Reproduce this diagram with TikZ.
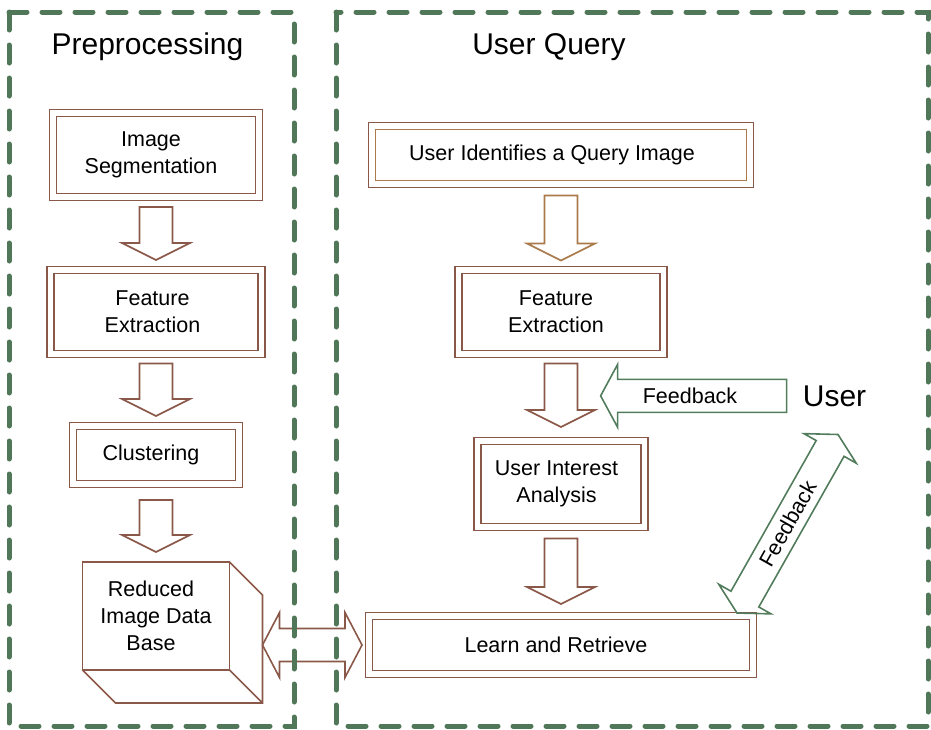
\documentclass[tikz,border=0pt]{standalone}
\usepackage{fontspec}
\setmainfont{Liberation Sans}
\usetikzlibrary{calc}
\definecolor{boxbrown}{RGB}{138,88,72}
\definecolor{boxtan}{RGB}{170,122,74}
\definecolor{dashgreen}{RGB}{80,120,88}
\definecolor{arrowgreen}{RGB}{82,124,92}
\newcommand\bodysize{\fontsize{21.5}{27}\selectfont}
\newcommand\titlesize{\fontsize{30}{36}\selectfont}
\tikzset{
  gap from/.store in=\gapfrom, gap from=0pt,
  gap to/.store in=\gapto, gap to=0pt,
  shaft half/.store in=\shafthalf, shaft half=16.5pt,
  blockhead half/.store in=\headhalf, blockhead half=34pt,
  blockhead length/.store in=\headlen, blockhead length=17pt,
  along/.style={shift={(\p1)}, rotate=\n1},
  blockarrow/.style={line width=1.6pt, line join=miter, to path={
    let \p1=(\tikztostart), \p2=(\tikztotarget),
        \n1={atan2(\y2-\y1,\x2-\x1)}, \n2={veclen(\x2-\x1,\y2-\y1)} in
    ([along]\gapfrom,-\shafthalf) -- ([along]\n2-\gapto-\headlen,-\shafthalf)
    -- ([along]\n2-\gapto-\headlen,-\headhalf) -- ([along]\n2-\gapto,0pt)
    -- ([along]\n2-\gapto-\headlen,\headhalf) -- ([along]\n2-\gapto-\headlen,\shafthalf)
    -- ([along]\gapfrom,\shafthalf) -- cycle}},
  blockdouble/.style={line width=1.6pt, line join=miter, to path={
    let \p1=(\tikztostart), \p2=(\tikztotarget),
        \n1={atan2(\y2-\y1,\x2-\x1)}, \n2={veclen(\x2-\x1,\y2-\y1)} in
    ([along]\gapfrom,0pt) -- ([along]\gapfrom+\headlen,\headhalf)
    -- ([along]\gapfrom+\headlen,\shafthalf) -- ([along]\n2-\gapto-\headlen,\shafthalf)
    -- ([along]\n2-\gapto-\headlen,\headhalf) -- ([along]\n2-\gapto,0pt)
    -- ([along]\n2-\gapto-\headlen,-\headhalf) -- ([along]\n2-\gapto-\headlen,-\shafthalf)
    -- ([along]\gapfrom+\headlen,-\shafthalf) -- ([along]\gapfrom+\headlen,-\headhalf) -- cycle}},
  brownarrow/.style={blockarrow, draw=boxbrown},
  browndouble/.style={blockdouble, draw=boxbrown},
  greenarrow/.style={blockarrow, draw=arrowgreen},
  greendouble/.style={blockdouble, draw=arrowgreen},
  dbox/.style={draw=boxbrown, line width=1.7pt, double=white, double distance=5.3pt,
    outer sep=0pt, inner sep=2pt, align=center, font=\bodysize},
  cube/.style={draw=boxbrown, line width=1.7pt, outer sep=0pt, align=center, font=\bodysize},
  title/.style={font=\titlesize, inner sep=0pt},
  tag/.style={font=\bodysize, inner sep=0pt},
  container/.style={draw=dashgreen, line width=5pt, dash pattern=on 18pt off 15pt, line cap=round}
}
\begin{document}
\begin{tikzpicture}[x=1pt, y=-1pt]
  \useasboundingbox (0,0) rectangle (931,729);
  \node[title, anchor=base] (prep) at (147.5,54) {Preprocessing};
  \node[title, anchor=base] (query) at (549,54) {User Query};
  \node[dbox, minimum width=206pt, minimum height=84pt] (seg) at (156,155) {Image\hspace*{10pt}\\Segmentation\hspace*{10pt}};
  \node[dbox, minimum width=211pt, minimum height=84pt] (featL) at (156,312) {Feature\hspace*{7pt}\\Extraction\hspace*{7pt}};
  \node[dbox, minimum width=166pt, minimum height=58pt] (clus) at (156,455) {Clustering\hspace*{10pt}};
  \node[cube, minimum width=147pt, minimum height=108pt] (db) at (156,616) {Reduced\hspace*{10pt}\\Image Data\hspace*{10pt}\\Base\hspace*{10pt}};
  \draw[boxbrown, line width=1.7pt] (db.north east) -- ++(33,33) -- ++(0,108) coordinate (dbback)
    -- ++(-147,0) -- (db.south west) (db.south east) -- (dbback);
  \node[dbox, minimum width=378pt, minimum height=58pt] (uq) at (561,155) {User Identifies a Query Image\hspace*{18pt}};
  \draw[boxtan, line width=1.7pt] ([shift={(3.5,3.5)}]uq.north west) rectangle ([shift={(-3.5,-3.5)}]uq.south east);
  \node[dbox, minimum width=205pt, minimum height=84pt] (featR) at (561,312) {Feature\hspace*{10pt}\\Extraction\hspace*{10pt}};
  \node[dbox, minimum width=167pt, minimum height=86pt] (uia) at (561,484) {User Interest\hspace*{9pt}\\Analysis\hspace*{9pt}};
  \node[dbox, minimum width=384pt, minimum height=58pt] (learn) at (561,645) {Learn and Retrieve\hspace*{10pt}};
  \node[title, anchor=base] (user) at (834.5,406) {User};
  \coordinate (fbtip) at ([xshift=-202pt]user.west);
  \coordinate (fbbot) at ([shift={(-16,-3)}]learn.north east);
  \coordinate (fbtop) at ([shift={(3.5,28)}]user.south);

  \draw[brownarrow, gap from=10pt, gap to=10pt] (seg.south) to (featL.north);
  \draw[brownarrow, gap from=9.5pt, gap to=10pt] (featL.south) to (clus.north);
  \draw[brownarrow, gap from=16pt, gap to=10pt] (clus.south) to (db.north);
  \draw[brownarrow, draw=boxtan, gap from=11.5pt, gap to=9.5pt] (uq.south) to (featR.north);
  \draw[brownarrow, gap from=9.5pt, gap to=14pt] (featR.south) to (uia.north);
  \draw[brownarrow, gap from=11.5pt, gap to=12pt] (uia.south) to (learn.north);
  \draw[browndouble, gap from=33pt, gap to=7pt, blockhead half=32.5pt] (learn.west -| db.east) to (learn.west);
  \draw[greenarrow, gap from=16pt, blockhead half=31.5pt] (user.west) to (fbtip);
  \node[tag, anchor=base] (fbtext) at (690,403) {Feedback};
  \draw[greendouble, shaft half=16pt, blockhead half=30pt, blockhead length=16pt] (fbbot) to (fbtop);
  \node[tag, rotate=60.6] (fbdiag) at ($(fbbot)!0.5!(fbtop)$) {Feedback};

  \draw[container] (9,12) rectangle (294,726);
  \draw[container] (336,12) rectangle (928,726);
\end{tikzpicture}
\end{document}
